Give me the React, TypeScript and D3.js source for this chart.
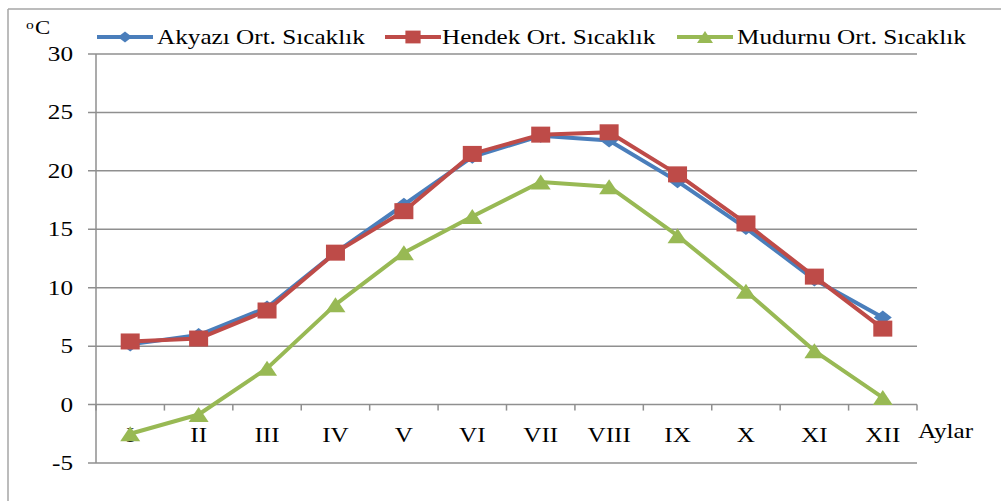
import React from 'react';
import * as d3 from 'd3';

const months = ['I', 'II', 'III', 'IV', 'V', 'VI', 'VII', 'VIII', 'IX', 'X', 'XI', 'XII'];
const akyazi = [5.15, 5.95, 8.3, 13.0, 17.1, 21.2, 23.0, 22.6, 19.1, 15.1, 10.7, 7.45];
const hendek = [5.4, 5.65, 8.05, 13.0, 16.55, 21.45, 23.1, 23.3, 19.7, 15.5, 10.95, 6.5];
const mudurnu = [-2.5, -0.85, 3.1, 8.55, 13.0, 16.1, 19.05, 18.65, 14.45, 9.7, 4.6, 0.6];
const yTicks = [-5, 0, 5, 10, 15, 20, 25, 30];
const seriesNames = ['Akyazı Ort. Sıcaklık', 'Hendek Ort. Sıcaklık', 'Mudurnu Ort. Sıcaklık'];
const seriesColors = ['#4A7EBB', '#BE4B48', '#98B954'];
const seriesMarkers = ['diamond', 'square', 'triangle'];

const FONT = '"Liberation Serif", "Times New Roman", serif';
const SX = 1.2;

function T({ x, y, anchor = 'start', size = 21, children }: any) {
  return (
    <text
      transform={`translate(${x},${y}) scale(${SX},1)`}
      textAnchor={anchor}
      fontFamily={FONT}
      fontSize={size}
      fill="#000"
    >
      {children}
    </text>
  );
}

function Marker({ kind, cx, cy, color, k = 1 }: any) {
  if (kind === 'diamond') {
    const w = 9 * k, h = 7 * k;
    return <path d={`M${cx - w},${cy}L${cx},${cy - h}L${cx + w},${cy}L${cx},${cy + h}Z`} fill={color} />;
  }
  if (kind === 'square') {
    const w = 9.5 * k, h = 8 * k;
    return <rect x={cx - w} y={cy - h} width={2 * w} height={2 * h} fill={color} />;
  }
  const w = 10 * k, h = 7.5 * k;
  return <path d={`M${cx - w},${cy + h}L${cx},${cy - h}L${cx + w},${cy + h}Z`} fill={color} />;
}

export default function App() {
  const x = d3.scaleBand<string>().domain(months).range([96, 917]);
  const y = d3.scaleLinear().domain([-5, 30]).range([463, 54]);
  const cx = (m: string) => (x(m) as number) + x.bandwidth() / 2;
  const line = d3
    .line<number>()
    .x((_, i) => cx(months[i]))
    .y((d) => y(d));
  const data = [akyazi, hendek, mudurnu];
  const gridColor = '#8f8f8f';
  const boundaries = months.map((m) => x(m) as number).concat([917]);
  const legendX = [97, 385, 677];
  const legendTextX = [157, 442, 737];

  return (
    <svg
      width={1001}
      height={501}
      style={{ position: 'absolute', left: 0, top: 0, background: '#fff' }}
    >
      <rect x={0} y={0} width={1001} height={501} fill="#fff" />
      {/* outer frame */}
      <line x1={8} y1={9} x2={1001} y2={9} stroke="#a6a6a6" strokeWidth={1.5} />
      <line x1={8} y1={9} x2={8} y2={501} stroke="#a6a6a6" strokeWidth={1.5} />

      {/* gridlines */}
      {yTicks.map((t) => (
        <line key={t} x1={88} x2={917} y1={y(t)} y2={y(t)} stroke={gridColor} strokeWidth={1.5} />
      ))}
      {/* y axis */}
      <line x1={96} x2={96} y1={y(30)} y2={y(-5)} stroke={gridColor} strokeWidth={1.5} />
      {/* x ticks at 0 */}
      {boundaries.map((b, i) => (
        <line key={i} x1={b} x2={b} y1={y(0)} y2={y(0) + 6} stroke={gridColor} strokeWidth={1.5} />
      ))}

      {/* y labels */}
      {yTicks.map((t) => (
        <T key={t} x={73} y={y(t) + 7} anchor="end">
          {String(t)}
        </T>
      ))}
      {/* x labels */}
      {months.map((m) => (
        <T key={m} x={cx(m)} y={442} anchor="middle">
          {m}
        </T>
      ))}
      <T x={918} y={438}>Aylar</T>

      {/* unit */}
      <text transform={`translate(26,28.5) scale(${SX},1)`} fontFamily={FONT} fontSize={13} fill="#000">o</text>
      <T x={35} y={34} size={19}>C</T>

      {/* series */}
      {data.map((s, si) => (
        <g key={si}>
          <path
            d={line(s) as string}
            fill="none"
            stroke={seriesColors[si]}
            strokeWidth={4}
            strokeLinejoin="round"
          />
          {s.map((v, i) => (
            <Marker key={i} kind={seriesMarkers[si]} cx={cx(months[i])} cy={y(v)} color={seriesColors[si]} />
          ))}
        </g>
      ))}

      {/* legend */}
      {seriesNames.map((n, i) => (
        <g key={n}>
          <line x1={legendX[i]} x2={legendX[i] + 56} y1={37} y2={37} stroke={seriesColors[i]} strokeWidth={4} />
          <Marker kind={seriesMarkers[i]} cx={legendX[i] + 28} cy={37} color={seriesColors[i]} k={0.8} />
          <T x={legendTextX[i]} y={44}>{n}</T>
        </g>
      ))}
    </svg>
  );
}
